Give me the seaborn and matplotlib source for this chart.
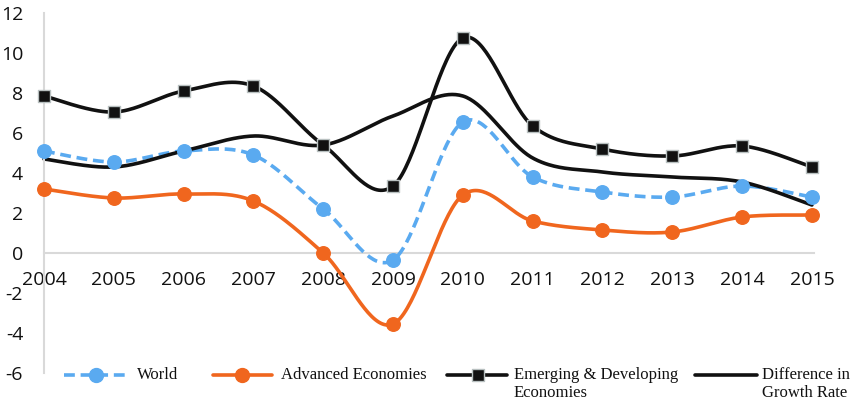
import numpy as np
import pandas as pd
import matplotlib
matplotlib.use("Agg")
import matplotlib.pyplot as plt
from matplotlib.lines import Line2D
import seaborn as sns

years = [2004, 2005, 2006, 2007, 2008, 2009, 2010, 2011, 2012, 2013, 2014, 2015]
world = [5.1, 4.55, 5.1, 4.9, 2.2, -0.35, 6.55, 3.8, 3.05, 2.8, 3.35, 2.8]
advanced = [3.2, 2.75, 2.95, 2.6, 0.0, -3.55, 2.9, 1.6, 1.15, 1.05, 1.8, 1.9]
emerging = [7.85, 7.05, 8.1, 8.35, 5.4, 3.35, 10.75, 6.35, 5.2, 4.85, 5.35, 4.3]
difference = [4.7, 4.3, 5.1, 5.85, 5.4, 6.85, 7.85, 4.75, 4.05, 3.8, 3.55, 2.4]
y_ticks = [-6, -4, -2, 0, 2, 4, 6, 8, 10, 12]

BLUE = "#5AAAF0"
ORANGE = "#F0661E"
BLACK = "#111111"
GRAY = "#D9D9D9"


def smooth(x, y, n=40):
    P = np.column_stack([np.asarray(x, float), np.asarray(y, float)])
    E = np.vstack([P[0], P, P[-1]])
    xs, ys = [], []
    t = np.linspace(0, 1, n)[:, None]
    for i in range(len(P) - 1):
        p0, p1, p2, p3 = E[i], E[i + 1], E[i + 2], E[i + 3]
        c1 = p1 + (p2 - p0) / 6
        c2 = p2 - (p3 - p1) / 6
        b = ((1 - t) ** 3) * p1 + 3 * ((1 - t) ** 2) * t * c1 + 3 * (1 - t) * t ** 2 * c2 + t ** 3 * p2
        if i > 0:
            b = b[1:]
        xs.append(b[:, 0])
        ys.append(b[:, 1])
    return np.concatenate(xs), np.concatenate(ys)


sns.set_theme(style="white")
plt.rcParams["font.family"] = ["Open Sans", "DejaVu Sans"]

fig = plt.figure(figsize=(8.5, 4.04), dpi=100)
W, H = 850, 404
ax = fig.add_axes([44 / W, 1 - 373 / H, 770 / W, 360 / H])

series = [
    ("World", world, BLUE, "o", (3, 1.6), BLUE, BLUE),
    ("Advanced Economies", advanced, ORANGE, "o", None, ORANGE, ORANGE),
    ("Emerging & Developing Economies", emerging, BLACK, "s", None, BLACK, "#B8C0C0"),
    ("Difference in Growth Rate", difference, BLACK, None, None, None, None),
]

for name, vals, col, mk, dash, mfc, mec in series:
    sx, sy = smooth(years, vals)
    df = pd.DataFrame({"x": sx, "y": sy})
    sns.lineplot(data=df, x="x", y="y", color=col, linewidth=2.6, sort=False,
                 estimator=None, ax=ax)
    l = ax.lines[-1]
    l.set_clip_on(False)
    l.set_solid_capstyle("round")
    if dash is not None:
        l.set_dashes(dash)
    if mk is not None:
        dfp = pd.DataFrame({"x": years, "y": vals})
        sns.scatterplot(data=dfp, x="x", y="y", marker=mk, s=95 if mk == "o" else 80,
                        color=mfc, edgecolor=mec, linewidth=1.0, ax=ax, zorder=5)
        ax.collections[-1].set_clip_on(False)

ax.set_xlim(2004, 2015.03)
ax.set_ylim(-6, 12)
ax.set_yticks(y_ticks)
ax.set_yticklabels([str(v) for v in y_ticks])
ax.set_xticks(years)
ax.set_xticklabels([str(v) for v in years])
ax.set_xlabel("")
ax.set_ylabel("")
for s in ["top", "right"]:
    ax.spines[s].set_visible(False)
ax.spines["bottom"].set_position(("data", 0))
ax.spines["bottom"].set_color(GRAY)
ax.spines["bottom"].set_linewidth(1.5)
ax.spines["bottom"].set_zorder(0.5)
ax.spines["left"].set_color(GRAY)
ax.spines["left"].set_linewidth(1.5)
ax.tick_params(axis="both", length=0, labelsize=14, labelcolor="#111111")
ax.tick_params(axis="y", pad=15)
ax.tick_params(axis="x", pad=13)
ax.patch.set_alpha(0)


def fx(px):
    return px / W


def fy(py):
    return 1 - py / H


leg_y = 375
serif = "Liberation Serif"
entries = [
    (64, 128, 96, BLUE, "o", (3, 1.6), BLUE, BLUE, 137, "World"),
    (213, 272, 242, ORANGE, "o", None, ORANGE, ORANGE, 281, "Advanced Economies"),
    (447, 507, 478, BLACK, "s", None, BLACK, "#B8C0C0", 514, "Emerging & Developing\nEconomies"),
    (695, 757, None, BLACK, None, None, None, None, 762, "Difference in\nGrowth Rate"),
]
for x0, x1, xm, col, mk, dash, mfc, mec, tx, label in entries:
    ln = Line2D([fx(x0), fx(x1)], [fy(leg_y), fy(leg_y)], transform=fig.transFigure,
                color=col, linewidth=2.6)
    if dash is not None:
        ln.set_dashes(dash)
    fig.add_artist(ln)
    if mk is not None:
        fig.add_artist(Line2D([fx(xm)], [fy(leg_y)], transform=fig.transFigure, marker=mk,
                              markersize=10 if mk == "o" else 9, markerfacecolor=mfc,
                              markeredgecolor=mec, markeredgewidth=1.0, linestyle="none"))
    fig.text(fx(tx), fy(leg_y - 8), label, ha="left", va="top", fontsize=12,
             family=[serif, "DejaVu Serif"], color="#111111", linespacing=1.2)

fig.savefig("out.png", dpi=100)
